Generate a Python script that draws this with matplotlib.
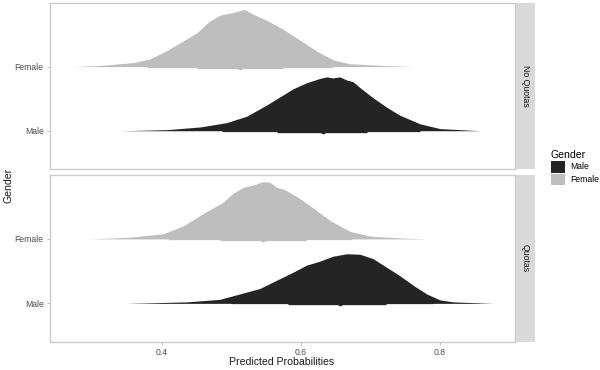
import numpy as np
import matplotlib.pyplot as plt
from matplotlib.patches import Patch

plt.rcParams['font.family'] = ['Liberation Sans', 'DejaVu Sans']

# Facets and groups
facets = ['No Quotas', 'Quotas']
genders = ['Male', 'Female']
colors = {'Male': '#242424', 'Female': '#bebebe'}

# Slab shapes: x positions and relative heights
nq_female_x = [0.270, 0.311, 0.359, 0.383, 0.407, 0.431, 0.450, 0.469, 0.483, 0.503,
               0.519, 0.531, 0.551, 0.575, 0.599, 0.623, 0.646, 0.670, 0.719, 0.762]
nq_female_h = [0.0, 0.02, 0.07, 0.135, 0.28, 0.45, 0.59, 0.80, 0.90, 0.95,
               1.0, 0.92, 0.81, 0.65, 0.46, 0.27, 0.12, 0.05, 0.02, 0.0]
nq_male_x = [0.342, 0.407, 0.455, 0.493, 0.522, 0.551, 0.570, 0.589, 0.608, 0.627, 0.637,
             0.646, 0.656, 0.666, 0.675, 0.685, 0.704, 0.723, 0.742, 0.771, 0.800, 0.858]
nq_male_h = [0.0, 0.02, 0.07, 0.15, 0.27, 0.48, 0.63, 0.78, 0.89, 0.97, 1.0,
             0.98, 1.0, 0.94, 0.91, 0.80, 0.61, 0.44, 0.29, 0.13, 0.04, 0.0]
q_female_x = [0.296, 0.354, 0.402, 0.431, 0.459, 0.488, 0.503, 0.517, 0.531, 0.546,
              0.555, 0.565, 0.575, 0.594, 0.613, 0.642, 0.671, 0.699, 0.738, 0.781]
q_female_h = [0.0, 0.03, 0.09, 0.23, 0.44, 0.64, 0.80, 0.90, 0.94, 1.0,
              0.99, 0.90, 0.87, 0.74, 0.58, 0.32, 0.13, 0.05, 0.02, 0.0]
q_male_x = [0.349, 0.436, 0.483, 0.512, 0.541, 0.570, 0.589, 0.608, 0.627, 0.646,
            0.666, 0.685, 0.704, 0.723, 0.742, 0.762, 0.781, 0.800, 0.819, 0.877]
q_male_h = [0.0, 0.03, 0.08, 0.19, 0.30, 0.50, 0.63, 0.77, 0.85, 0.95,
            1.0, 0.99, 0.90, 0.73, 0.56, 0.36, 0.19, 0.07, 0.03, 0.0]

# peak height of each slab (in row units)
peak = {('No Quotas', 'Female'): 0.89, ('No Quotas', 'Male'): 0.84,
        ('Quotas', 'Female'): 0.89, ('Quotas', 'Male'): 0.77}

slabs = {('No Quotas', 'Female'): (nq_female_x, nq_female_h),
         ('No Quotas', 'Male'): (nq_male_x, nq_male_h),
         ('Quotas', 'Female'): (q_female_x, q_female_h),
         ('Quotas', 'Male'): (q_male_x, q_male_h)}

# median, 66% interval, 95% interval
medians = {('No Quotas', 'Female'): 0.512, ('No Quotas', 'Male'): 0.632,
           ('Quotas', 'Female'): 0.545, ('Quotas', 'Male'): 0.656}
thick = {('No Quotas', 'Female'): (0.450, 0.574), ('No Quotas', 'Male'): (0.565, 0.695),
         ('Quotas', 'Female'): (0.483, 0.608), ('Quotas', 'Male'): (0.582, 0.723)}
thin = {('No Quotas', 'Female'): (0.378, 0.646), ('No Quotas', 'Male'): (0.486, 0.771),
        ('Quotas', 'Female'): (0.409, 0.673), ('Quotas', 'Male'): (0.500, 0.790)}

xticks = [0.4, 0.6, 0.8]

fig = plt.figure(figsize=(6, 3.7), dpi=100)
panel_pos = [[0.0833, 0.5435, 0.775, 0.449], [0.0833, 0.0765, 0.775, 0.451]]

for i, facet in enumerate(facets):
    ax = fig.add_axes(panel_pos[i])
    for j, g in enumerate(genders):
        base = j + 1
        xs, hs = slabs[(facet, g)]
        ys = base + np.array(hs) * peak[(facet, g)]
        ax.fill_between(xs, base, ys, color=colors[g], lw=0, zorder=2)
        ax.hlines(base, *thin[(facet, g)], color=colors[g], lw=0.9, zorder=3)
        ax.hlines(base, *thick[(facet, g)], color=colors[g], lw=2.4, zorder=3)
        ax.plot(medians[(facet, g)], base, 'o', color=colors[g], ms=4, mew=0, zorder=4)
    ax.set_xlim(0.239, 0.908)
    ax.set_ylim(0.405, 2.995)
    ax.set_yticks([1, 2])
    ax.set_yticklabels(genders)
    ax.set_xticks(xticks)
    ax.tick_params(labelsize=6.2, labelcolor='#4d4d4d', color='#b3b3b3',
                   length=2.5, width=0.6, pad=2)
    if i == 0:
        ax.set_xticklabels([])
        ax.tick_params(axis='x', length=0)
    else:
        ax.set_xticklabels([f'{t:.1f}' for t in xticks])
    for s in ax.spines.values():
        s.set_color('#cccccc')
        s.set_linewidth(1.0)

    # facet strip on the right
    pos = panel_pos[i]
    sax = fig.add_axes([0.86, pos[1], 0.032, pos[3]])
    sax.set_facecolor('#d9d9d9')
    sax.set_xticks([])
    sax.set_yticks([])
    for s in sax.spines.values():
        s.set_visible(False)
    sax.text(0.5, 0.5, facet, rotation=-90, ha='center', va='center',
             fontsize=6.3, color='#1a1a1a', transform=sax.transAxes)

fig.text(0.47, 0.021, 'Predicted Probabilities', ha='center', va='center',
         fontsize=7.6, color='#1a1a1a')
fig.text(0.014, 0.5, 'Gender', rotation=90, ha='center', va='center',
         fontsize=7.6, color='#1a1a1a')

handles = [Patch(facecolor=colors[g], edgecolor='none', label=g) for g in genders]
leg = fig.legend(handles=handles, title='Gender', loc='upper left',
                 bbox_to_anchor=(0.912, 0.605), frameon=False, fontsize=6.2,
                 title_fontsize=7.6, handlelength=1.7, handleheight=1.7,
                 handletextpad=0.6, labelspacing=0.15, borderaxespad=0)
leg._legend_box.align = 'left'

fig.savefig('out.png', dpi=100)
